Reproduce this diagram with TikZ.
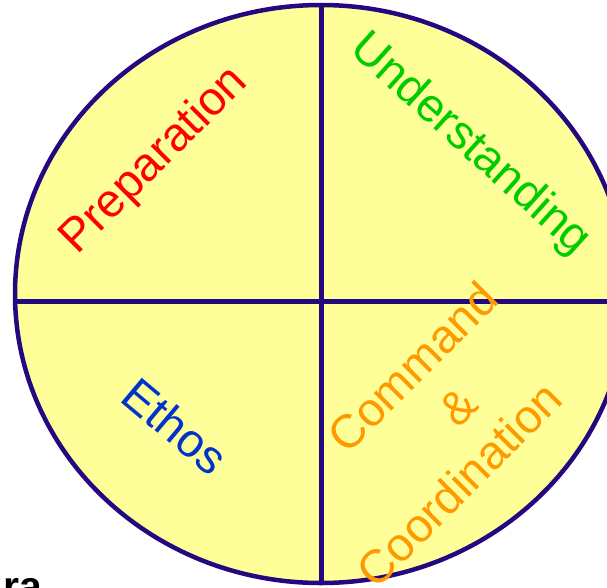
\documentclass[tikz,border=0pt]{standalone}
\usepackage{fontspec}
\setmainfont{Liberation Sans}
\definecolor{linecol}{RGB}{36,8,128}
\definecolor{fillcol}{RGB}{255,255,153}
\definecolor{prepcol}{RGB}{255,0,0}
\definecolor{undcol}{RGB}{0,204,0}
\definecolor{ethcol}{RGB}{0,51,204}
\definecolor{cmdcol}{RGB}{255,153,0}
\begin{document}
\begin{tikzpicture}[x=1pt,y=-1pt,
  wordtxt/.style={font=\fontsize{47}{56}\selectfont, inner sep=0pt},
  divline/.style={draw=linecol, line width=5pt}]
\useasboundingbox (0,0) rectangle (607,587);
\clip (0,0) rectangle (607,587);
\fill[fillcol] (321,294) ellipse [x radius=306, y radius=289];
\begin{scope}
  \clip (321,294) ellipse [x radius=306, y radius=289];
  \draw[divline] (0,301) -- (640,301);
  \draw[divline] (321,0) -- (321,600);
\end{scope}
\draw[draw=linecol, line width=4.5pt] (321,294) ellipse [x radius=306, y radius=289];
\node[wordtxt, text=prepcol, rotate=45] (prep) at (155,161) {Preparation};
\node[wordtxt, text=undcol, rotate=-42] (und) at (470,145) {Understanding};
\node[wordtxt, text=ethcol, rotate=-40] (eth) at (175,426) {Ethos};
\node[wordtxt, text=cmdcol, rotate=45] (cmd) at (412,367) {Command};
\node[wordtxt, text=cmdcol, rotate=45] (amp) at (458,407) {\&};
\node[wordtxt, text=cmdcol, rotate=45] (coord) at (459,484) {Coordination};
\node[font=\bfseries\fontsize{41}{48}\selectfont, anchor=base west, inner sep=0pt] (ra) at (3,600) {ra};
\end{tikzpicture}
\end{document}
